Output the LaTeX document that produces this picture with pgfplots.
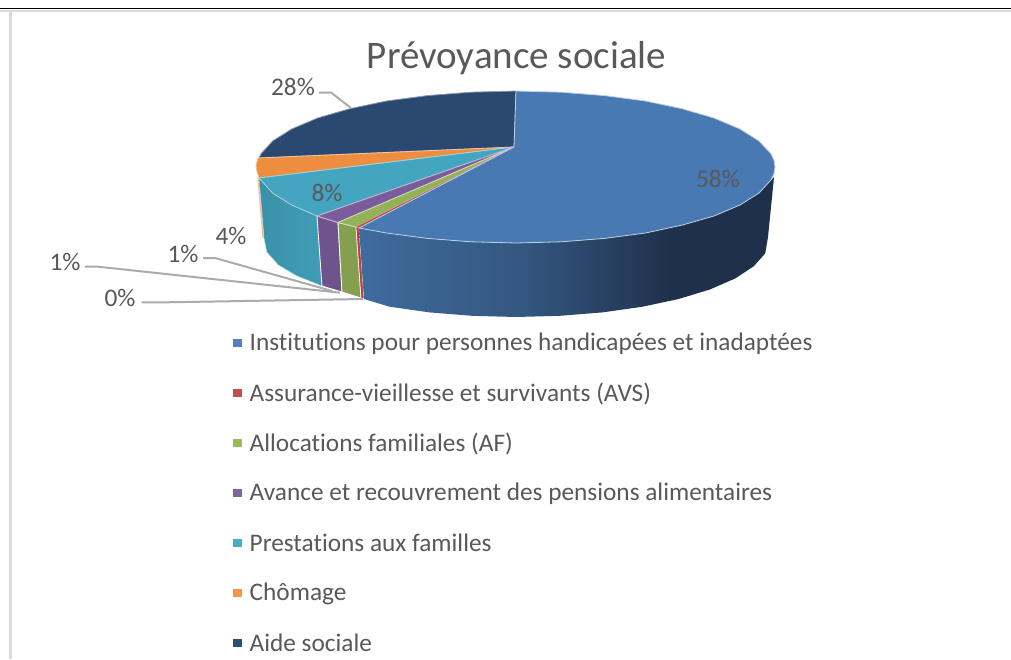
\documentclass[border=0pt]{standalone}
\usepackage{pgfplots}
\pgfplotsset{compat=1.18}
\usepackage{fontspec}
\setmainfont[Ligatures=NoCommon]{Carlito}
\definecolor{txt}{HTML}{595959}
\definecolor{leader}{HTML}{ABABAB}
\definecolor{blueT}{HTML}{4879B3}
\definecolor{redT}{HTML}{B8423F}
\definecolor{greenT}{HTML}{93B257}
\definecolor{purpleT}{HTML}{7A5C9C}
\definecolor{tealT}{HTML}{43A5BF}
\definecolor{orangeT}{HTML}{EC8D40}
\definecolor{navyT}{HTML}{2B4870}
\definecolor{legBlue}{HTML}{4F81BD}
\definecolor{legRed}{HTML}{C0504D}
\definecolor{legGreen}{HTML}{9BBB59}
\definecolor{legPurple}{HTML}{8064A2}
\definecolor{legTeal}{HTML}{4BACC6}
\definecolor{legOrange}{HTML}{F79646}
\definecolor{legNavy}{HTML}{2C4D75}
\pgfdeclarehorizontalshading{blueside}{100bp}{
  rgb(0bp)=(0.25,0.42,0.62);
  rgb(25bp)=(0.25,0.42,0.62);
  rgb(45bp)=(0.20,0.34,0.50);
  rgb(63bp)=(0.12,0.19,0.29);
  rgb(100bp)=(0.12,0.19,0.29)}
\newcommand{\lab}[3]{\node[text=txt,font=\fontsize{#3}{#3}\selectfont] at (axis cs:#1) {#2};}
\newcommand{\legtxt}[2]{\node[anchor=west,text=txt,font=\fontsize{25.3}{27}\selectfont,inner sep=0pt] at (axis cs:249.5,#1) {#2};}
\begin{document}
\begin{tikzpicture}
\begin{axis}[
  scale only axis, width=1011pt, height=659pt,
  xmin=0, xmax=1011, ymin=0, ymax=659, y dir=reverse,
  hide axis, line join=round,
]
% page and frame
\addplot[fill=white, draw=none] coordinates {(0,0) (1011,0) (1011,659) (0,659) (0,0)};
\addplot[draw=black!14, line width=2.2pt] coordinates {(0,11) (1011,11)};
\addplot[draw=black!14, line width=2.2pt] coordinates {(10.5,11) (10.5,659)};
\addplot[draw=black, line width=1.2pt] coordinates {(0,8.5) (1011,8.5)};

% side walls
\addplot[draw=orangeT!60!white, line width=1.2pt] coordinates {(258,178) (263,238)};
\addplot[left color=tealT!88!black, right color=tealT!95!black, draw=white!60!tealT, line width=0.5pt] coordinates {(259,178) (261,180) (272.6,193) (291.7,205) (317,216) (322,286) (297,276) (278.3,265) (266.8,252) (264,238) (259,178)};
\addplot[fill=purpleT!90!black, draw=white, line width=0.8pt] coordinates {(317,216) (338,222.5) (342,292) (322,286) (317,216)};
\addplot[fill=greenT!90!black, draw=white, line width=0.8pt] coordinates {(338,222.5) (356,227) (361,298) (342,292) (338,222.5)};
\addplot[fill=redT, draw=white, line width=0.6pt] coordinates {(356,227) (359,228) (364,299) (361,298) (356,227)};
\addplot[shading=blueside, draw=none] coordinates {(359,228) (386.5,233) (427.4,238.4) (471,241.8) (516,243) (561,241.8) (604.6,238.4) (645.5,233) (682.5,225) (714,216) (740,205) (759,193) (771,180) (774,177) (768,237) (765.2,253.4) (753.7,266.3) (735.1,278.5) (709.8,289.5) (678.6,299) (642.5,306.7) (602.5,312.4) (559.9,315.8) (516,317) (472.1,315.8) (429.5,312.4) (389.5,306.7) (364,299) (359,228)};

% top slices
\addplot[fill=navyT, draw=white!45!navyT, line width=0.8pt] coordinates {(514,147) (259,158) (261,153.8) (272.6,141) (291.7,129) (317.6,118) (349.5,108.8) (386.5,101) (427.4,95.6) (471,92.2) (516,91) (514,147)};
\addplot[fill=orangeT, draw=white!50!orangeT, line width=0.8pt] coordinates {(514,147) (258,158) (256,165) (257,172) (259,178) (514,147)};
\addplot[fill=tealT, draw=white!50!tealT, line width=0.8pt] coordinates {(514,147) (259,178) (261,180) (272.6,193) (291.7,205) (317,216) (514,147)};
\addplot[fill=purpleT, draw=white!55!purpleT, line width=0.8pt] coordinates {(514,147) (317,216) (338,222.5) (514,147)};
\addplot[fill=greenT, draw=white!55!greenT, line width=0.8pt] coordinates {(514,147) (338,222.5) (356,227) (514,147)};
\addplot[fill=redT, draw=white!40!redT, line width=0.4pt] coordinates {(514,147) (356,227) (359,228) (514,147)};
\addplot[fill=blueT, draw=white!65!blueT, line width=0.8pt] coordinates {(514,147) (516,91) (561,92.2) (604.6,95.6) (645.5,101) (682.5,108.8) (714,118) (740,129) (759,141) (771,153.8) (774,160.4) (775,167) (774,173.6) (771,180) (759,193) (740,205) (714,216) (682.5,225) (645.5,233) (604.6,238.4) (561,241.8) (516,243) (471,241.8) (427.4,238.4) (386.5,233) (359,228) (514,147)};

% leader lines
\addplot[draw=leader, line width=2pt] coordinates {(319,92.5) (331,92.5) (351,108)};
\addplot[draw=leader, line width=2pt] coordinates {(85,266.7) (98,266.7) (340,292.7)};
\addplot[draw=leader, line width=2pt] coordinates {(203,258) (215,258) (332,291)};
\addplot[draw=leader, line width=2pt] coordinates {(141.7,302.3) (167,302.3) (363,299)};

% legend markers
\addplot[only marks, mark=square*, mark size=3.7pt, mark options={draw=legBlue, fill=legBlue}] coordinates {(237,342.5)};
\addplot[only marks, mark=square*, mark size=3.7pt, mark options={draw=legRed, fill=legRed}] coordinates {(237,392.5)};
\addplot[only marks, mark=square*, mark size=3.7pt, mark options={draw=legGreen, fill=legGreen}] coordinates {(237,442.5)};
\addplot[only marks, mark=square*, mark size=3.7pt, mark options={draw=legPurple, fill=legPurple}] coordinates {(237,492.5)};
\addplot[only marks, mark=square*, mark size=3.7pt, mark options={draw=legTeal, fill=legTeal}] coordinates {(237,542.5)};
\addplot[only marks, mark=square*, mark size=3.7pt, mark options={draw=legOrange, fill=legOrange}] coordinates {(237,592.5)};
\addplot[only marks, mark=square*, mark size=3.7pt, mark options={draw=legNavy, fill=legNavy}] coordinates {(237,642.5)};

\legtxt{343.5}{Institutions pour personnes handicapées et inadaptées}
\legtxt{393.5}{Assurance-vieillesse et survivants (AVS)}
\legtxt{444}{Allocations familiales (AF)}
\legtxt{493.5}{Avance et recouvrement des pensions alimentaires}
\legtxt{543}{Prestations aux familles}
\legtxt{593.5}{Chômage}
\legtxt{643}{Aide sociale}

\lab{516.5,58}{Prévoyance sociale}{39}
\lab{293,86.5}{28\%}{25.3}
\lab{65,261.5}{1\%}{25.3}
\lab{183,253.5}{1\%}{25.3}
\lab{231,235.5}{4\%}{25.3}
\lab{120,297.5}{0\%}{25.3}
\lab{327,192.5}{8\%}{25.3}
\lab{718,178.5}{58\%}{25.3}
\end{axis}
\end{tikzpicture}
\end{document}
